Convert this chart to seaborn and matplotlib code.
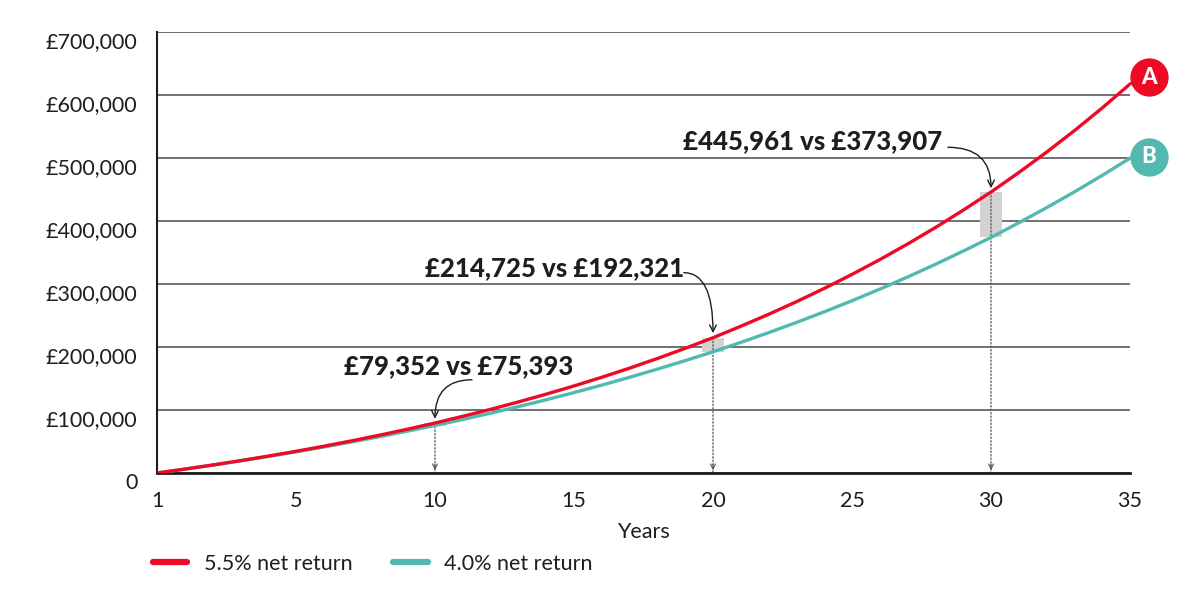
import matplotlib
matplotlib.use("Agg")
import matplotlib.pyplot as plt
import matplotlib.transforms as mtransforms
from matplotlib.lines import Line2D
import seaborn as sns
import pandas as pd

# ---- data ----
years = list(range(0, 36))
red_values = [0, 6171, 12681, 19549, 26795, 34437, 42499, 51003, 59974, 69438,
              79352, 89951, 101061, 112781, 125144, 138185, 151943, 166456, 181765, 197916,
              214725, 232925, 251883, 271883, 292981, 315237, 338714, 363480, 389607, 417167,
              445961, 476909, 509264, 543393, 579397, 617376]
teal_values = [0, 6144, 12564, 19272, 26282, 33606, 41259, 49256, 57611, 66343,
               75393, 84998, 94958, 105366, 116242, 127605, 139478, 151885, 164849, 178395,
               192321, 207339, 222791, 238939, 255812, 273441, 291864, 311113, 331225, 352242,
               373907, 397146, 421123, 446175, 472352, 499704]
series_names = ["5.5% net return", "4.0% net return"]
xtick_pos = [0, 5, 10, 15, 20, 25, 30, 35]
xtick_labels = ["1", "5", "10", "15", "20", "25", "30", "35"]
ytick_pos = [0, 100000, 200000, 300000, 400000, 500000, 600000, 700000]
ytick_labels = ["0", "£100,000", "£200,000", "£300,000", "£400,000", "£500,000", "£600,000", "£700,000"]
callout_years = [10, 20, 30]
callout_texts = ["£79,352 vs £75,393", "£214,725 vs £192,321", "£445,961 vs £373,907"]

RED = "#EE0A24"
TEAL = "#52B9B1"
DARK = "#1e1e1e"

sns.set_theme(style="white")
plt.rcParams["font.family"] = ["Lato", "DejaVu Sans"]

df = pd.DataFrame({
    "year": years + years,
    "value": red_values + teal_values,
    "series": [series_names[0]] * len(years) + [series_names[1]] * len(years),
})

fig = plt.figure(figsize=(12, 6), dpi=100)
ax = fig.add_axes([157 / 1200, 1 - 473 / 600, (1130 - 157) / 1200, (473 - 32) / 600])

sns.lineplot(data=df, x="year", y="value", hue="series",
             palette={series_names[0]: RED, series_names[1]: TEAL},
             hue_order=[series_names[1], series_names[0]],
             linewidth=2.4, legend=False, ax=ax, zorder=3)

ax.set_xlim(0, 35)
ax.set_ylim(0, 700000)
ax.set_xticks(xtick_pos)
ax.set_xticklabels(xtick_labels)
ax.set_yticks(ytick_pos)
ax.set_yticklabels(ytick_labels)
ax.tick_params(axis="both", length=0, labelsize=15.5, colors=DARK)
ax.tick_params(axis="y", pad=14)
ax.tick_params(axis="x", pad=13)
for lab in ax.get_yticklabels():
    lab.set_transform(lab.get_transform() + mtransforms.ScaledTranslation(0, -8 / 100, fig.dpi_scale_trans))

ax.set_xlabel("Years", fontsize=15.5, color=DARK, labelpad=8)
ax.set_ylabel("")

ax.set_axisbelow(True)
ax.yaxis.grid(True, color="#4a4a4a", linewidth=1.1)
ax.xaxis.grid(False)
for s in ["top", "right"]:
    ax.spines[s].set_visible(False)
ax.spines["left"].set_color(DARK)
ax.spines["left"].set_linewidth(1.5)
ax.spines["bottom"].set_color(DARK)
ax.spines["bottom"].set_linewidth(2.0)

# shaded differences and dotted drop lines
for yr in callout_years:
    r = red_values[yr]
    t = teal_values[yr]
    ax.fill_between([yr - 0.4, yr + 0.4], [t, t], [r, r], color="#d2d2d2", zorder=2, linewidth=0)
    ax.annotate("", xy=(yr, 0), xytext=(yr, r),
                arrowprops=dict(arrowstyle="-", color="#555555", lw=0.9, linestyle=(0, (1.2, 1.6)),
                                shrinkA=0, shrinkB=0), zorder=2)
    ax.annotate("", xy=(yr, 4500), xytext=(yr, 14000),
                arrowprops=dict(arrowstyle="->", color="#555555", lw=0.8, mutation_scale=9,
                                shrinkA=0, shrinkB=0), zorder=2)

# callout labels with curved arrows
text_pos = [(10.85, 170000), (14.3, 326000), (23.6, 527000)]
arrow_start = [(11.33, 148000), (18.95, 318000), (28.45, 517000)]
arrow_end = [(10.0, 86000), (20.0, 222000), (30.0, 452000)]
for txt, tp, st, en in zip(callout_texts, text_pos, arrow_start, arrow_end):
    ax.text(tp[0], tp[1], txt, ha="center", va="center", fontsize=18.5, fontweight="black",
            color=DARK, zorder=5)
    ax.annotate("", xy=en, xytext=st,
                arrowprops=dict(arrowstyle="->", color=DARK, lw=1.0, mutation_scale=12,
                                connectionstyle="angle3,angleA=0,angleB=90",
                                shrinkA=0, shrinkB=0), zorder=5)

# end badges A / B
badge_x = 35.68
badges = [("A", 628000, RED, red_values[-1]), ("B", 502000, TEAL, teal_values[-1])]
for letter, by, col, endv in badges:
    ax.plot([35, badge_x], [endv, by], color=col, lw=2.4, clip_on=False, zorder=3,
            solid_capstyle="butt")
    ax.scatter([badge_x], [by], s=760, color=col, clip_on=False, zorder=6, linewidths=0)
    ax.text(badge_x, by, letter, ha="center", va="center", fontsize=16, fontweight="black",
            color="white", clip_on=False, zorder=7)

# legend
handles = [Line2D([0], [0], color=RED, lw=4.5, solid_capstyle="round"),
           Line2D([0], [0], color=TEAL, lw=4.5, solid_capstyle="round")]
fig.legend(handles, series_names, loc="center left", bbox_to_anchor=(153 / 1200, 1 - 564 / 600),
           ncol=2, frameon=False, fontsize=15.5, handlelength=1.6, handletextpad=0.75,
           columnspacing=1.9, borderpad=0, borderaxespad=0, labelcolor=DARK)

fig.savefig("out.png", dpi=100, facecolor="white")
